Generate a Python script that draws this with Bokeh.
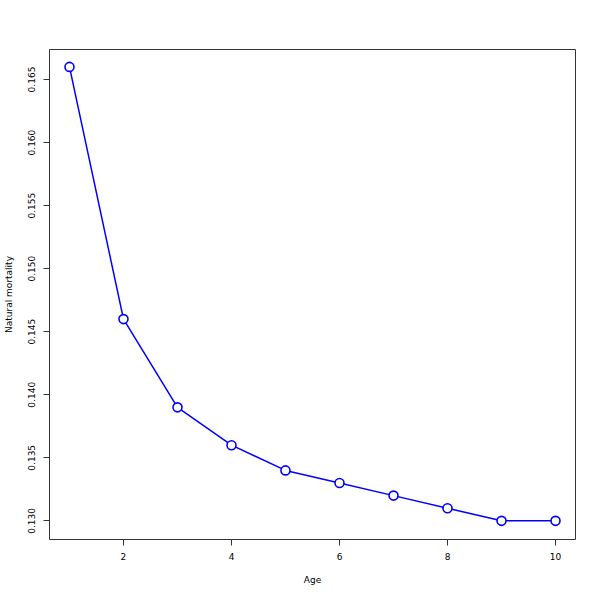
from bokeh.plotting import figure
from bokeh.models import Range1d, FixedTicker, ColumnDataSource
from bokeh.embed import file_html
from bokeh.resources import INLINE

age = [1, 2, 3, 4, 5, 6, 7, 8, 9, 10]
mortality = [0.166, 0.146, 0.139, 0.136, 0.134, 0.133, 0.132, 0.131, 0.130, 0.130]
x_ticks = [2, 4, 6, 8, 10]
y_ticks = [0.130, 0.135, 0.140, 0.145, 0.150, 0.155, 0.160, 0.165]

src = ColumnDataSource(data=dict(age=age, m=mortality))

p = figure(width=600, height=600, output_backend="svg", toolbar_location=None,
           x_range=Range1d(0.63, 10.37), y_range=Range1d(0.12852, 0.16738),
           min_border_left=49, min_border_right=25, min_border_top=49, min_border_bottom=61)

p.line("age", "m", source=src, line_color="blue", line_width=1.5)
p.scatter("age", "m", source=src, size=9, fill_color="white", line_color="blue", line_width=1.6)

p.grid.visible = False
p.outline_line_color = "#333333"
p.outline_line_width = 1
p.background_fill_color = "white"
p.border_fill_color = "white"

p.xaxis.ticker = FixedTicker(ticks=x_ticks)
p.yaxis.ticker = FixedTicker(ticks=y_ticks)
p.xaxis.major_label_overrides = {t: str(t) for t in x_ticks}
p.yaxis.major_label_overrides = {t: f"{t:.3f}" for t in y_ticks}

for ax in (p.xaxis[0], p.yaxis[0]):
    ax.axis_line_color = None
    ax.major_tick_out = 6
    ax.major_tick_in = 0
    ax.minor_tick_line_color = None
    ax.major_tick_line_color = "#333333"
    ax.major_label_text_font = "DejaVu Sans"
    ax.major_label_text_font_size = "9px"
    ax.major_label_text_color = "black"
    ax.axis_label_text_font = "DejaVu Sans"
    ax.axis_label_text_font_size = "9px"
    ax.axis_label_text_font_style = "normal"
    ax.axis_label_text_color = "black"

p.xaxis.axis_label = "Age"
p.yaxis.axis_label = "Natural mortality"
p.xaxis.major_label_standoff = 7
p.yaxis.major_label_standoff = 8
p.xaxis.axis_label_standoff = 12
p.yaxis.axis_label_standoff = 12
p.yaxis.major_label_orientation = "vertical"

open("out.html", "w").write(file_html(p, INLINE))
